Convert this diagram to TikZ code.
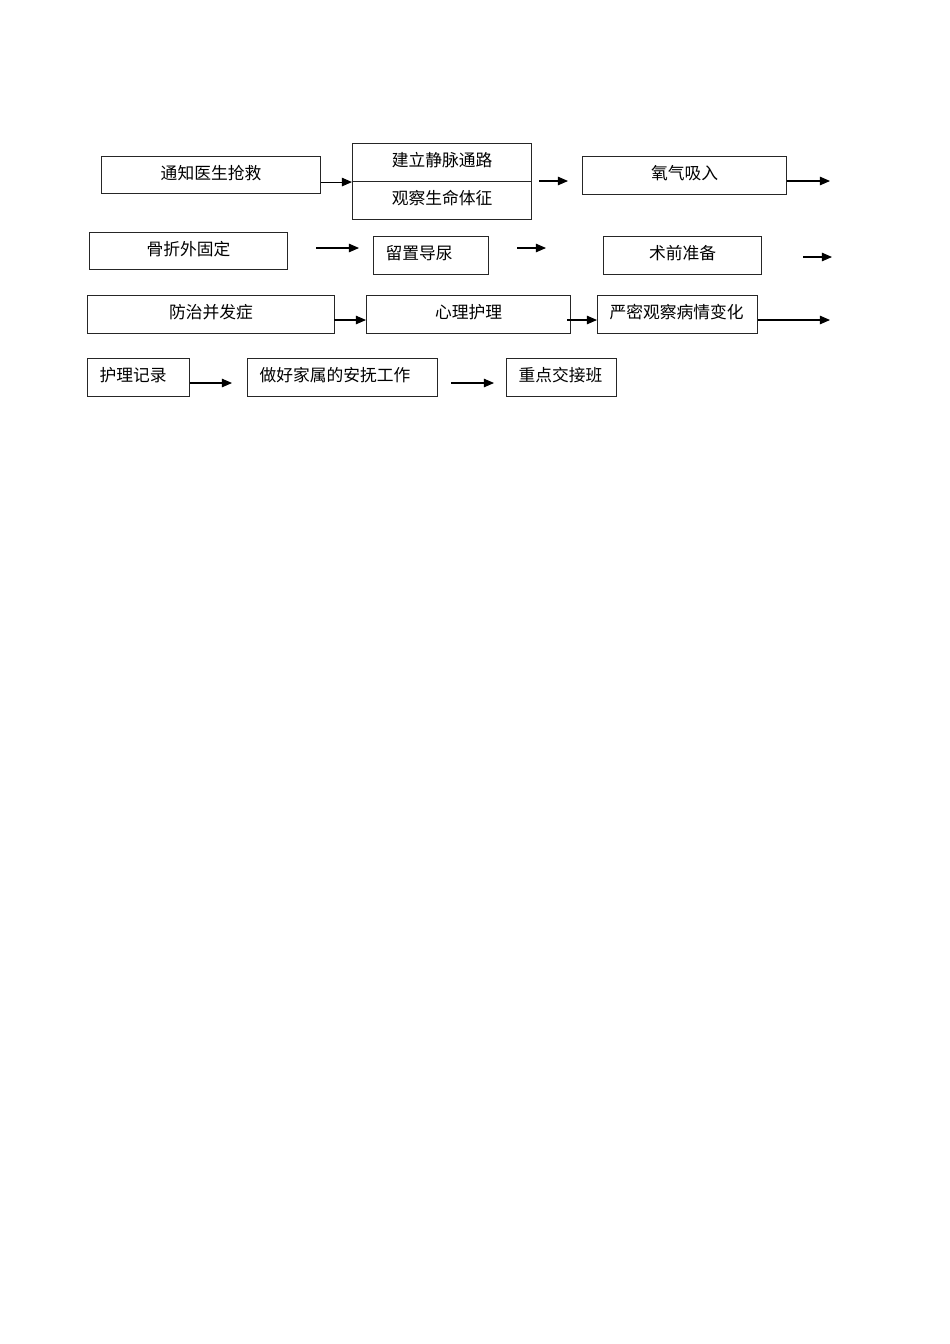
\documentclass[tikz,border=0pt]{standalone}
\usepackage{fontspec}
\setmainfont{Liberation Serif}
\newfontfamily\cjk{Noto Sans CJK SC}
\usetikzlibrary{arrows.meta}
\newlength\pxu
\setlength\pxu{0.6266pt}
\tikzset{
  box/.style={draw=black!85, line width=0.65pt, rectangle, inner sep=0pt, anchor=north west,
    text height=8.5pt, text depth=3pt,
    font=\cjk\fontsize{10.5pt}{12pt}\selectfont},
  lbox/.style={box, inner xsep=12\pxu, align=left},
  arr/.style={draw=black, line width=0.65pt, -{Triangle[length=6.3pt,width=5.3pt]}}
}
\begin{document}
\begin{tikzpicture}[x=\pxu, y=-\pxu]
\useasboundingbox (0,0) rectangle (950,1344);
\fill[white] (0,0) rectangle (950,1344);
% row 1
\node[box, minimum width=219\pxu, minimum height=37\pxu] (A) at (101,156) {通知医生抢救};
\node[box, minimum width=179\pxu, minimum height=38\pxu] (B1) at (352,143) {建立静脉通路};
\node[box, minimum width=179\pxu, minimum height=38\pxu] (B2) at (352,181) {观察生命体征};
\node[box, minimum width=204\pxu, minimum height=38\pxu] (C) at (582,156) {氧气吸入};
\coordinate (b1s) at (539,181);
\coordinate (b1e) at (568,181);
\coordinate (c1e) at (830,181);
\draw[arr] (B1.south west -| A.east) -- (B1.south west);
\draw[arr] (b1s) -- (b1e);
\draw[arr] (b1e -| C.east) -- (c1e);
% row 2
\node[box, minimum width=198\pxu, minimum height=37\pxu] (D) at (89,232) {骨折外固定};
\node[lbox, minimum width=115\pxu, minimum height=38\pxu, text width=91\pxu] (E) at (373,236) {留置导尿};
\node[box, minimum width=158\pxu, minimum height=38\pxu] (F) at (603,236) {术前准备};
\coordinate (d1s) at (316,248);
\coordinate (d1e) at (359,248);
\coordinate (e1s) at (517,248);
\coordinate (e1e) at (546,248);
\coordinate (f1s) at (803,257);
\coordinate (f1e) at (832,257);
\draw[arr] (d1s) -- (d1e);
\draw[arr] (e1s) -- (e1e);
\draw[arr] (f1s) -- (f1e);
% row 3
\node[box, minimum width=247\pxu, minimum height=38\pxu] (G) at (87,295) {防治并发症};
\node[box, minimum width=204\pxu, minimum height=38\pxu] (H) at (366,295) {心理护理};
\node[lbox, minimum width=160\pxu, minimum height=38\pxu, text width=136\pxu] (I) at (597,295) {严密观察病情变化};
\coordinate (g1) at (334,320);
\coordinate (h1) at (567,320);
\coordinate (i1e) at (830,320);
\draw[arr] (g1) -- (g1 -| H.west);
\draw[arr] (h1) -- (h1 -| I.west);
\draw[arr] (h1 -| I.east) -- (i1e);
% row 4
\node[lbox, minimum width=102\pxu, minimum height=38\pxu, text width=78\pxu] (J) at (87,358) {护理记录};
\node[lbox, minimum width=190\pxu, minimum height=38\pxu, text width=166\pxu] (K) at (247,358) {做好家属的安抚工作};
\node[lbox, minimum width=110\pxu, minimum height=38\pxu, text width=86\pxu] (L) at (506,358) {重点交接班};
\coordinate (j1e) at (232,383);
\coordinate (k1s) at (451,383);
\coordinate (k1e) at (494,383);
\draw[arr] (j1e -| J.east) -- (j1e);
\draw[arr] (k1s) -- (k1e);
\end{tikzpicture}
\end{document}
